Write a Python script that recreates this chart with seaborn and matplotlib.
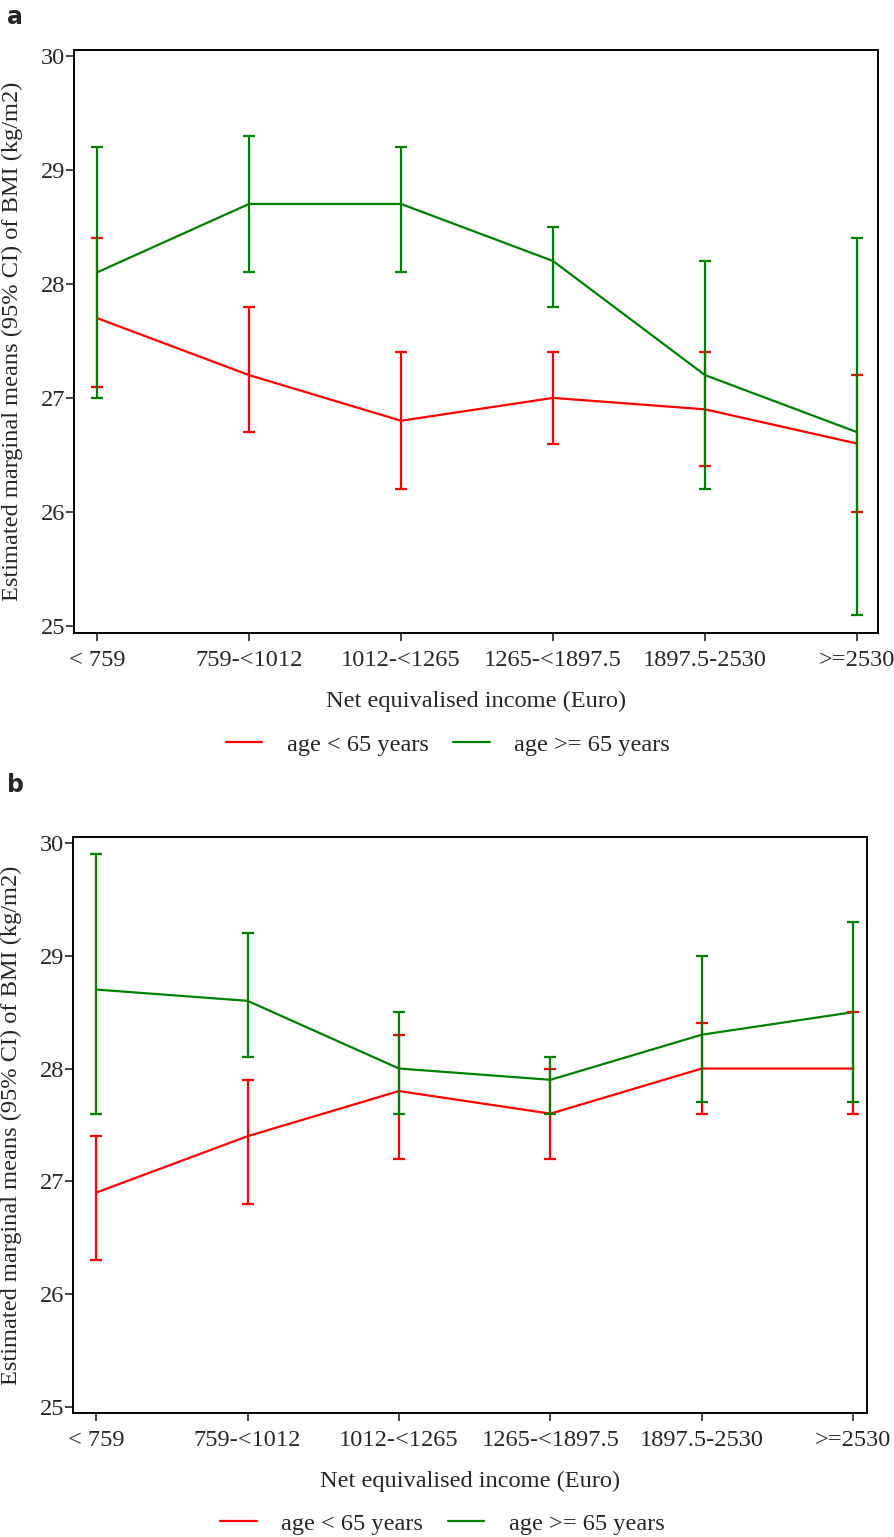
import numpy as np
import pandas as pd
import matplotlib
matplotlib.use("Agg")
import matplotlib.pyplot as plt
from matplotlib.lines import Line2D
import seaborn as sns

income = ["< 759", "759-<1012", "1012-<1265", "1265-<1897.5", "1897.5-2530", ">=2530"]
groups = ["age < 65 years", "age >= 65 years"]

# panel a
a_young = [27.7, 27.2, 26.8, 27.0, 26.9, 26.6]
a_young_lo = [27.1, 26.7, 26.2, 26.6, 26.4, 26.0]
a_young_hi = [28.4, 27.8, 27.4, 27.4, 27.4, 27.2]
a_old = [28.1, 28.7, 28.7, 28.2, 27.2, 26.7]
a_old_lo = [27.0, 28.1, 28.1, 27.8, 26.2, 25.1]
a_old_hi = [29.2, 29.3, 29.2, 28.5, 28.2, 28.4]

# panel b
b_young = [26.9, 27.4, 27.8, 27.6, 28.0, 28.0]
b_young_lo = [26.3, 26.8, 27.2, 27.2, 27.6, 27.6]
b_young_hi = [27.4, 27.9, 28.3, 28.0, 28.4, 28.5]
b_old = [28.7, 28.6, 28.0, 27.9, 28.3, 28.5]
b_old_lo = [27.6, 28.1, 27.6, 27.6, 27.7, 27.7]
b_old_hi = [29.9, 29.2, 28.5, 28.1, 29.0, 29.3]

colors = {groups[0]: "#ff0000", groups[1]: "#008000"}
FS = 17.6

sns.set_theme(style="ticks")
plt.rcParams["font.family"] = ["Liberation Serif", "DejaVu Serif"]
plt.rcParams["axes.linewidth"] = 1.4


def make_df(young, ylo, yhi, old, olo, ohi):
    rows = []
    for g, m, lo, hi in [(groups[0], young, ylo, yhi), (groups[1], old, olo, ohi)]:
        for i, lab in enumerate(income):
            rows.append({"pos": i, "income": lab, "group": g,
                         "mean": m[i], "lo": lo[i], "hi": hi[i]})
    return pd.DataFrame(rows)


def draw(ax, df, xlim, ylim):
    sns.lineplot(data=df, x="pos", y="mean", hue="group", palette=colors,
                 linewidth=1.6, ax=ax, legend=False)
    for g in groups:
        d = df[df.group == g]
        ax.errorbar(d["pos"], d["mean"],
                    yerr=[d["mean"] - d["lo"], d["hi"] - d["mean"]],
                    fmt="none", ecolor=colors[g], elinewidth=1.6,
                    capsize=4, capthick=1.6)
    ax.set_xlim(*xlim)
    ax.set_ylim(*ylim)
    ax.set_xticks(range(len(income)))
    ax.set_xticklabels(income, fontsize=FS)
    ax.set_yticks([25, 26, 27, 28, 29, 30])
    ax.tick_params(axis="y", labelsize=FS, length=6, width=1.2, pad=0.5)
    ax.tick_params(axis="x", length=6, width=1.2, pad=6)
    for s in ax.spines.values():
        s.set_visible(True)
        s.set_color("black")
    ax.set_xlabel("Net equivalised income (Euro)", fontsize=FS)
    ax.set_ylabel("Estimated marginal means (95% CI) of BMI (kg/m2)", fontsize=FS)
    ax.xaxis.set_label_coords(0.5, -0.1)
    ax.yaxis.set_label_coords(-0.064, 0.5)
    handles = [Line2D([], [], color=colors[g], lw=1.6) for g in groups]
    ax.legend(handles, groups, loc="center", bbox_to_anchor=(0.465, -0.192),
              ncol=2, frameon=False, fontsize=FS, handlelength=1.5,
              handletextpad=1.0, columnspacing=1.0)


fig = plt.figure(figsize=(8.94, 15.37), dpi=100)
ax_a = fig.add_axes([0.0828, 0.5882, 0.8993, 0.3793])
ax_b = fig.add_axes([0.0817, 0.0807, 0.8881, 0.3748])

df_a = make_df(a_young, a_young_lo, a_young_hi, a_old, a_old_lo, a_old_hi)
df_b = make_df(b_young, b_young_lo, b_young_hi, b_old, b_old_lo, b_old_hi)
draw(ax_a, df_a, (-0.151, 5.138), (24.94, 30.05))
draw(ax_b, df_b, (-0.152, 5.09), (24.947, 30.053))

fig.text(0.008, 0.997, "a", fontsize=17, fontweight="bold", va="top",
         family="DejaVu Sans")
fig.text(0.008, 0.497, "b", fontsize=17, fontweight="bold", va="top",
         family="DejaVu Sans")

fig.savefig("out.png", dpi=100)
